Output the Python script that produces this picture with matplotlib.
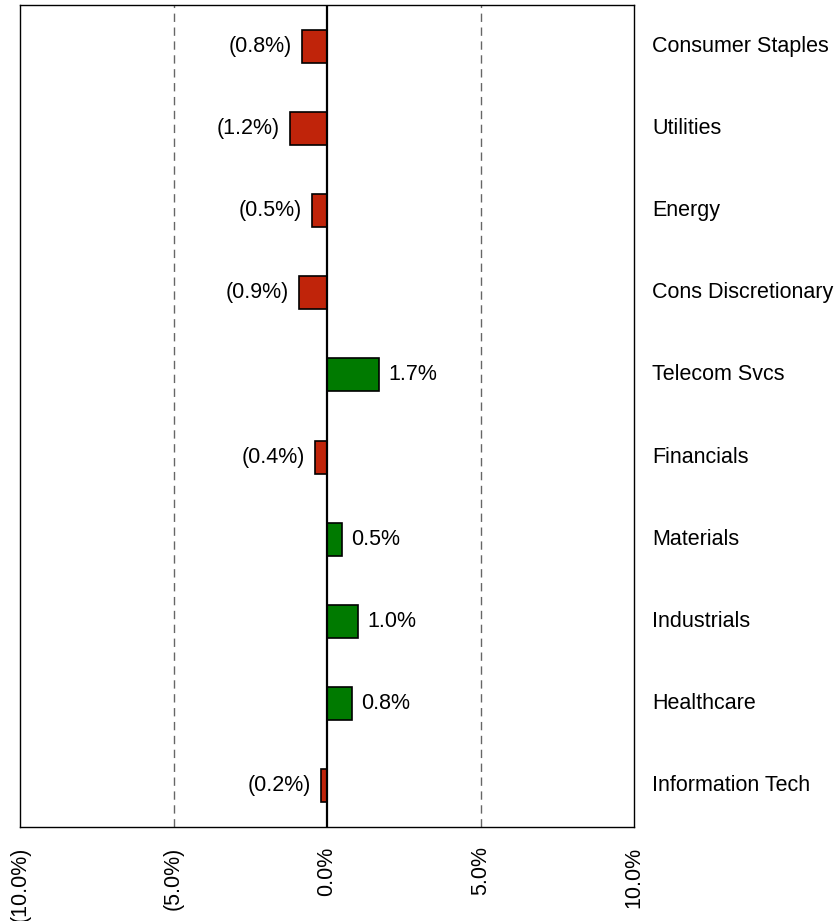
import matplotlib.pyplot as plt
import numpy as np

plt.rcParams["font.family"] = ["Liberation Sans", "DejaVu Sans"]

# Sector values (%) from top to bottom
sectors = [
    "Consumer Staples",
    "Utilities",
    "Energy",
    "Cons Discretionary",
    "Telecom Svcs",
    "Financials",
    "Materials",
    "Industrials",
    "Healthcare",
    "Information Tech",
]
values = [-0.8, -1.2, -0.5, -0.9, 1.7, -0.4, 0.5, 1.0, 0.8, -0.2]
xticks = [-10, -5, 0, 5, 10]

RED = "#C0240A"
GREEN = "#007A00"
FS = 15.5


def pct(v):
    """Format number as accounting-style percent."""
    if v < 0:
        return f"({abs(v):.1f}%)"
    return f"{v:.1f}%"


fig = plt.figure(figsize=(8.34, 9.21), dpi=100)
ax = fig.add_axes([20 / 834, 1 - 827 / 921, 614 / 834, 822 / 921])

y = np.arange(len(sectors))
colors = [GREEN if v > 0 else RED for v in values]
ax.barh(y, values, height=0.4, color=colors, edgecolor="black", linewidth=1.2, zorder=3)

# Value labels next to bars
for yi, v in zip(y, values):
    if v < 0:
        ax.text(v - 0.33, yi, pct(v), ha="right", va="center", fontsize=FS)
    else:
        ax.text(v + 0.3, yi, pct(v), ha="left", va="center", fontsize=FS)

# Sector names on the right, outside the axes
for yi, name in zip(y, sectors):
    ax.text(10.6, yi, name, ha="left", va="center", fontsize=FS, clip_on=False)

ax.axvline(0, color="black", linewidth=1.6, zorder=4)
for x in (-5, 5):
    ax.axvline(x, color="#666666", linestyle=(0, (6, 4)), linewidth=1, zorder=1)

ax.set_xlim(-10, 10)
ax.set_ylim(len(sectors) - 0.5, -0.5)
ax.set_xticks(xticks)
ax.set_xticklabels([pct(t) for t in xticks], rotation=90, fontsize=FS)
ax.set_yticks([])
ax.tick_params(axis="x", length=0, pad=14)
for s in ax.spines.values():
    s.set_color("black")
    s.set_linewidth(1)

fig.savefig("out.png", dpi=100)
